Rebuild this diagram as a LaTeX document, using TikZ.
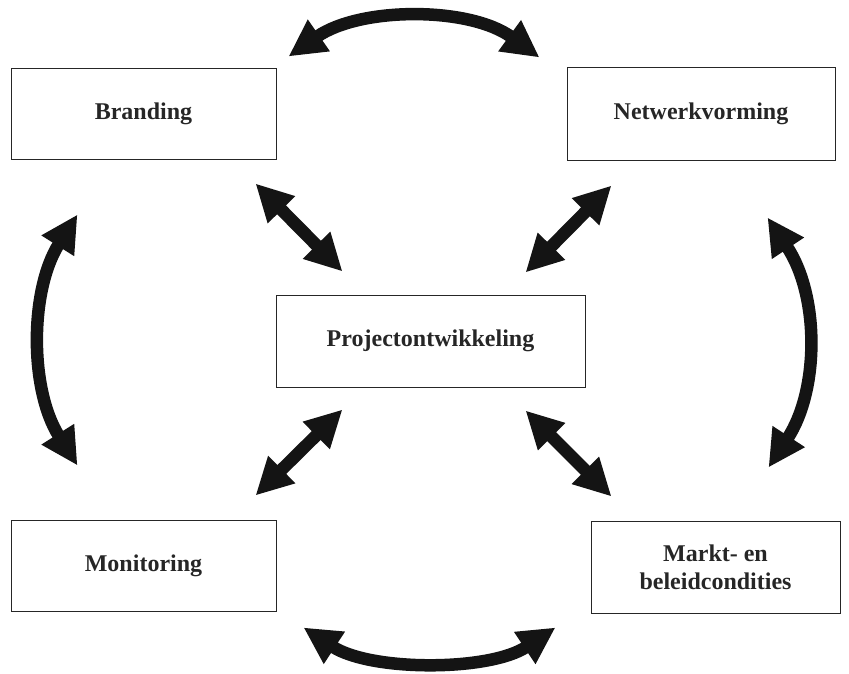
\documentclass[tikz,border=0pt]{standalone}
\usepackage{fontspec}
\setmainfont{Liberation Serif}
\usetikzlibrary{arrows.meta,positioning}
\tikzset{
fieldbox/.style={
  draw=black!85,
  line width=1pt,
  rectangle,
  align=center,
  font=\fontsize{24}{28}\selectfont\bfseries,
  text=black!85
  },
bothway/.style={
  draw=black!92,
  line width=12.5pt,
  {Triangle[length=37pt,width=36pt]}-{Triangle[length=37pt,width=36pt]}
  }
}

\begin{document}
\begin{tikzpicture}[x=1pt,y=-1pt]
\useasboundingbox (0,0) rectangle (849,673);

\node[fieldbox,minimum width=265pt,minimum height=91pt] (brand) at (143.5,113.5) {Branding};
\node[fieldbox,minimum width=268pt,minimum height=93pt] (netw) at (701,113.5) {Netwerkvorming};
\node[fieldbox,minimum width=309pt,minimum height=92pt] (proj) at (430.5,341) {Projectontwikkeling};
\node[fieldbox,minimum width=265pt,minimum height=91pt] (monit) at (143.5,565.5) {Monitoring};
\node[fieldbox,minimum width=249pt,minimum height=92pt] (markt) at (715.5,567) {Markt- en\\beleidcondities};

\coordinate(top-a) at([xshift=12pt,yshift=11pt]brand.north east);
\coordinate(top-b) at([xshift=-27pt,yshift=9pt]netw.north west);
\coordinate(left-a) at([xshift=67pt,yshift=-55pt]brand.south west);
\coordinate(left-b) at([xshift=67pt,yshift=54pt]monit.north west);
\coordinate(right-a) at([xshift=-68pt,yshift=-57pt]netw.south east);
\coordinate(right-b) at([xshift=-72pt,yshift=53pt]markt.north east);
\coordinate(bot-a) at([xshift=27pt,yshift=-16pt]monit.south east);
\coordinate(bot-b) at([xshift=-35pt,yshift=-14pt]markt.south west);

\draw[bothway] (top-a) .. controls +(72,-50) and +(-70,-51) .. (top-b);
\draw[bothway] (left-a) .. controls +(-48,76) and +(-48,-76) .. (left-b);
\draw[bothway] (right-a) .. controls +(52,78) and +(51,-78) .. (right-b);
\draw[bothway] (bot-a) .. controls +(67,44) and +(-66,44) .. (bot-b);

\draw[bothway] ([xshift=-21pt,yshift=-24pt]brand.south east) -- ([xshift=67pt,yshift=23pt]proj.north west);
\draw[bothway] ([xshift=45pt,yshift=-25pt]netw.south west) -- ([xshift=-60pt,yshift=22pt]proj.north east);
\draw[bothway] ([xshift=67pt,yshift=-22pt]proj.south west) -- ([xshift=-21pt,yshift=24pt]monit.north east);
\draw[bothway] ([xshift=-60pt,yshift=-23pt]proj.south east) -- ([xshift=21pt,yshift=24pt]markt.north west);

\end{tikzpicture}
\end{document}
